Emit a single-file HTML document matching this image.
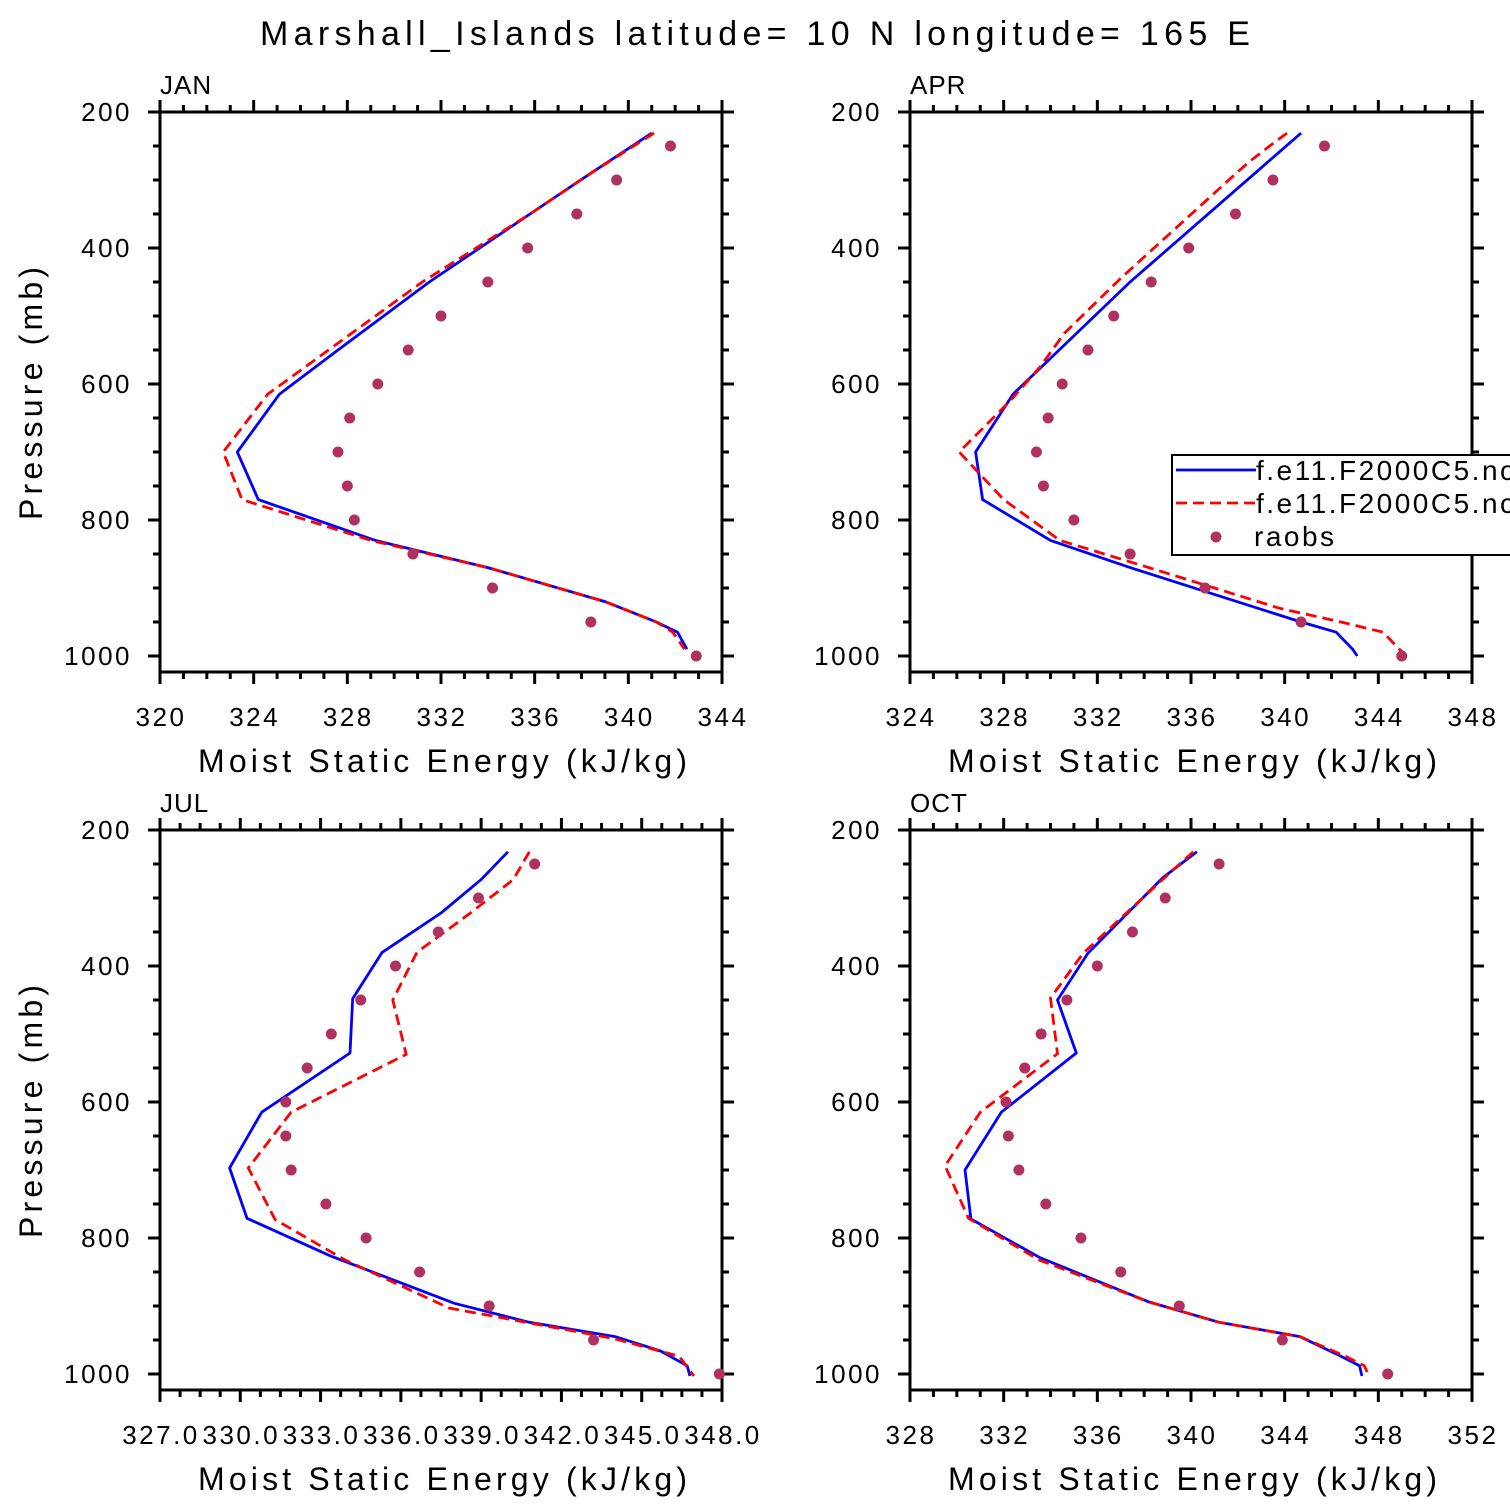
<!DOCTYPE html>
<html><head><meta charset="utf-8"><style>
html,body{margin:0;padding:0;background:#fff;}
svg{display:block;font-family:"Liberation Sans",sans-serif;}
</style></head><body>
<svg id="chart" width="1510" height="1510" viewBox="0 0 1510 1510" xmlns="http://www.w3.org/2000/svg">
<text x="260" y="45" font-size="34" textLength="990" lengthAdjust="spacing">Marshall_Islands  latitude= 10 N longitude= 165 E</text>
<g id="panels"></g>
</svg>
<script>
const NS="http://www.w3.org/2000/svg";
const pressureTicks=[200,400,600,800,1000];
const raobsP=[250,300,350,400,450,500,550,600,650,700,750,800,850,900,950,1000];
const months=["JAN","APR","JUL","OCT"];
const xMins=[320,324,327,328];
const xMaxs=[344,348,348,352];
const xSteps=[4,4,3,4];
// JAN
const janBlueP=[231,290,350,450,550,615,700,770,830,870,920,950,965,990];
const janBlueV=[341.0,338.4,335.8,331.5,327.6,325.1,323.3,324.2,329.2,334.0,339.0,341.2,342.1,342.5];
const janRedP=[231,290,350,450,550,615,700,770,830,870,920,950,965,990];
const janRedV=[341.1,338.4,335.8,331.2,327.2,324.6,322.7,323.5,329.0,334.0,339.0,341.2,341.9,342.4];
const janObs=[341.8,339.5,337.8,335.7,334.0,332.0,330.6,329.3,328.1,327.6,328.0,328.3,330.8,334.2,338.4,342.9];
// APR
const aprBlueP=[231,270,450,615,700,770,830,870,950,965,990,1000];
const aprBlueV=[340.7,339.4,333.4,328.4,326.8,327.1,330.0,333.4,340.7,342.2,342.9,343.1];
const aprRedP=[231,249,273,288,443,525,575,624,700,770,830,870,900,930,950,965,990,1000];
const aprRedV=[340.1,339.4,338.5,338.0,333.05,330.6,329.55,328.3,326.1,328.0,330.4,334.2,337.0,339.8,342.4,344.2,344.9,345.2];
const aprObs=[341.7,339.5,337.9,335.9,334.3,332.7,331.6,330.5,329.9,329.4,329.7,331.0,333.4,336.6,340.7,345.0];
// JUL
const julBlueP=[232,273,322,380,448,528,615,697,771,826,896,924,945,966,988,1003];
const julBlueV=[340.0,339.0,337.5,335.3,334.2,334.1,330.8,329.6,330.25,333.35,338.0,340.8,344.0,345.7,346.7,346.8];
const julRedP=[232,273,322,380,450,530,615,697,773,832,903,948,974,1003];
const julRedV=[340.8,340.2,338.6,336.6,335.7,336.2,331.9,330.3,331.3,333.9,337.8,343.97,346.4,346.95];
const julObs=[341.0,338.9,337.4,335.8,334.5,333.4,332.5,331.7,331.7,331.9,333.2,334.7,336.7,339.3,343.2,347.9];
// OCT
const octBlueP=[232,270,381,450,528,615,700,772,829,894,924,945,974,988,1003];
const octBlueV=[340.25,338.8,335.6,334.3,335.1,331.9,330.35,330.6,333.55,338.2,341.2,344.65,346.4,347.2,347.3];
const octRedP=[232,266,381,447,529,615,694,771,832,894,924,945,974,988,1003];
const octRedV=[340.1,339.0,335.4,334.0,334.3,331.0,329.5,330.5,333.5,338.2,341.2,344.65,346.6,347.4,347.6];
const octObs=[341.2,338.9,337.5,336.0,334.7,333.6,332.9,332.1,332.2,332.65,333.8,335.3,337.0,339.5,343.9,348.4];

const blues=[[janBlueP,janBlueV],[aprBlueP,aprBlueV],[julBlueP,julBlueV],[octBlueP,octBlueV]];
const reds=[[janRedP,janRedV],[aprRedP,aprRedV],[julRedP,julRedV],[octRedP,octRedV]];
const obs=[janObs,aprObs,julObs,octObs];

const root=document.getElementById('panels');
function el(tag,attrs,parent){const e=document.createElementNS(NS,tag);for(const k in attrs)e.setAttribute(k,attrs[k]);(parent||root).appendChild(e);return e;}

const lefts=[160,910,160,910], tops=[112,112,830,830];
const W=562, H=560, PPX=0.68;
for(let i=0;i<4;i++){
  const L=lefts[i],T=tops[i],R=L+W,B=T+H;
  const g=el('g',{});
  
  
  const xs=v=>L+(v-xMins[i])/(xMaxs[i]-xMins[i])*W;
  const ys=p=>T+(p-200)*PPX;
  const tk=el('g',{stroke:'#000','stroke-width':3},g);
  
  
  const nMaj=Math.round((xMaxs[i]-xMins[i])/xSteps[i]);
  for(let k=0;k<=nMaj*4;k++){
    const x=L+k*W/(nMaj*4), len=(k%4===0)?12:7;
    el('line',{x1:x,y1:B,x2:x,y2:B+len},tk);
    el('line',{x1:x,y1:T,x2:x,y2:T-len},tk);
  }
  for(let p=200;p<=1020;p+=50){
    const y=ys(p), len=(p%200===0)?12:7;
    el('line',{x1:L,y1:y,x2:L-len,y2:y},tk);
    el('line',{x1:R,y1:y,x2:R+len,y2:y},tk);
  }
  const frame=el('rect',{x:L,y:T,width:W,height:H,fill:'none',stroke:'#000','stroke-width':3},g);
  
  
  for(let k=0;k<=nMaj;k++){
    const v=xMins[i]+k*xSteps[i];
    const t=el('text',{x:xs(v)+1,y:B+54,'font-size':26,'letter-spacing':2.5,'text-anchor':'middle'},g);
    
    
    t.textContent=(i===2)?v.toFixed(1):String(v);
  }
  pressureTicks.forEach(p=>{
    const t=el('text',{x:L-28,y:ys(p)+9,'font-size':26,'letter-spacing':2.5,'text-anchor':'end'},g);
    
    
    t.textContent=p;
  });
  const xt=el('text',{x:L+38,y:B+100,'font-size':32,textLength:489,lengthAdjust:'spacing'},g);
  
  
  xt.textContent='Moist Static Energy (kJ/kg)';
  if(i%2===0){
    const yt=el('text',{x:0,y:0,'font-size':32,textLength:253,lengthAdjust:'spacing',transform:`translate(42,${T+408}) rotate(-90)`},g);
    
    
    yt.textContent='Pressure (mb)';
  }
  const mt=el('text',{x:L,y:T-18,'font-size':26,'letter-spacing':1},g);
  
  
  mt.textContent=months[i];
  const clipId='c'+i;
  const cp=el('clipPath',{id:clipId},g);el('rect',{x:L,y:T,width:W+3,height:H},cp);
  const bp=blues[i][0].map((p,j)=>xs(blues[i][1][j]).toFixed(1)+','+ys(p).toFixed(1)).join(' ');
  const bl=el('polyline',{points:bp,fill:'none',stroke:'#0000ff','stroke-width':2.8,'stroke-linejoin':'round','clip-path':`url(#${clipId})`},g);
  
  
  const rp=reds[i][0].map((p,j)=>xs(reds[i][1][j]).toFixed(1)+','+ys(p).toFixed(1)).join(' ');
  const rl=el('polyline',{points:rp,fill:'none',stroke:'#ff0000','stroke-width':2.8,'stroke-dasharray':'11,6','clip-path':`url(#${clipId})`},g);
  
  
  raobsP.forEach((p,j)=>{
    const c=el('circle',{cx:xs(obs[i][j]),cy:ys(p),r:5.5,fill:'#b03060'},g);
    
    
  });
}
const lg=el('g',{});


el('rect',{x:1172,y:455,width:345,height:100,fill:'#fff',stroke:'#000','stroke-width':2},lg);
const l1=el('line',{x1:1176,y1:470,x2:1256,y2:470,stroke:'#0000ff','stroke-width':2.8},lg);


const t1=el('text',{x:1256,y:480,'font-size':28,'letter-spacing':2.5},lg);t1.textContent='f.e11.F2000C5.nc';


const l2=el('line',{x1:1176,y1:503,x2:1256,y2:503,stroke:'#ff0000','stroke-width':2.8,'stroke-dasharray':'11,6'},lg);


const t2=el('text',{x:1256,y:513,'font-size':28,'letter-spacing':2.5},lg);t2.textContent='f.e11.F2000C5.nc';


const d3=el('circle',{cx:1216,cy:537,r:5.5,fill:'#b03060'},lg);


const t3=el('text',{x:1254,y:546,'font-size':28,'letter-spacing':2.5},lg);t3.textContent='raobs';


</script>
</body></html>
